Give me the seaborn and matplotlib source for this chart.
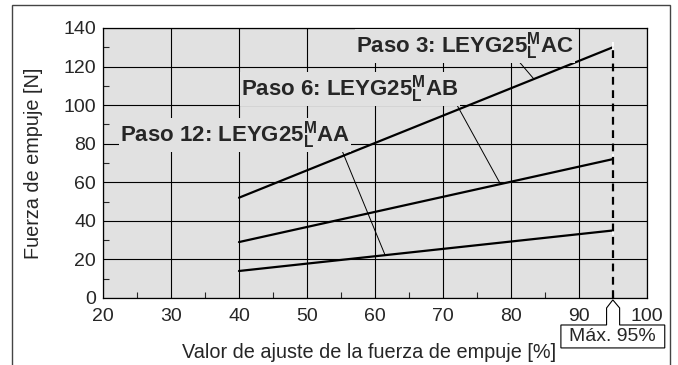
import numpy as np
import pandas as pd
import matplotlib
matplotlib.use("Agg")
import matplotlib.pyplot as plt
from matplotlib.patches import Polygon, Rectangle
import seaborn as sns

# values
ajuste = [40, 95]
paso3 = [52, 130]
paso6 = [29, 72]
paso12 = [14, 35]
max_ajuste = 95

series = {"Paso 3": paso3, "Paso 6": paso6, "Paso 12": paso12}
df = pd.DataFrame([
    {"ajuste": x, "fuerza": y, "serie": name}
    for name, ys in series.items() for x, y in zip(ajuste, ys)
])

sns.set_style("ticks")
plt.rcParams["font.family"] = ["Liberation Sans", "DejaVu Sans"]
plt.rcParams["mathtext.fontset"] = "custom"
plt.rcParams["mathtext.rm"] = "Liberation Sans"
plt.rcParams["mathtext.bf"] = "Liberation Sans:bold"

fig = plt.figure(figsize=(6.78, 3.65), dpi=100)
ax = fig.add_axes([0.152, 0.1836, 0.802, 0.7397])
ax.set_facecolor("#e1e1e1")

sns.lineplot(data=df, x="ajuste", y="fuerza", hue="serie",
             palette=["black"] * 3, linewidth=1.6, legend=False, ax=ax,
             marker="|", markersize=7, markeredgewidth=1.3, markevery=[-1])
ax.plot([max_ajuste, max_ajuste], [0, max(paso3)], color="black",
        lw=1.6, ls=(0, (3.5, 2.5)))

ax.set_xlim(20, 100)
ax.set_ylim(0, 140)
ax.set_xticks(np.arange(20, 101, 10))
ax.set_yticks(np.arange(0, 141, 20))
ax.set_xticks(np.arange(25, 100, 10), minor=True)
ax.set_yticks(np.arange(10, 140, 20), minor=True)
ax.grid(True, which="major", color="black", lw=0.8)
ax.set_axisbelow(True)
ax.tick_params(which="major", length=0, labelsize=14)
ax.tick_params(axis="y", which="major", pad=5)
ax.tick_params(axis="x", which="major", pad=7)
ax.tick_params(which="minor", direction="in", length=4, width=0.8)
for s in ax.spines.values():
    s.set_linewidth(0.9)
    s.set_color("black")

ax.set_xlabel("Valor de ajuste de la fuerza de empuje [%]", fontsize=14.3)
ax.set_ylabel("Fuerza de empuje [N]", fontsize=14.3)
ax.xaxis.set_label_coords(0.49, -0.165)
ax.yaxis.set_label_coords(-0.11, 0.5)

# curve labels and their leader lines
box = dict(boxstyle="square,pad=0.05", fc="#e1e1e1", ec="none")
lab = dict(fontsize=16, fontweight="bold", ha="center", va="center", bbox=box, zorder=4)
arrow = dict(arrowstyle="-", color="black", lw=0.7, shrinkA=0, shrinkB=0)
sub = r"$^{\mathbf{M}}_{\mathbf{L}}$"
labels = [
    ("Paso 3: LEYG25" + sub + "AC", (73.2, 130.5), (81.0, 123.4), (83.4, 113.5)),
    ("Paso 6: LEYG25" + sub + "AB", (56.3, 108.5), (71.5, 103.7), (78.4, 59.5)),
    ("Paso 12: LEYG25" + sub + "AA", (39.4, 84.5), (55.0, 77.8), (61.5, 22.2)),
]
for txt, pos, start, end in labels:
    ax.text(*pos, txt, **lab)
    ax.annotate("", xy=end, xytext=start, arrowprops=arrow, zorder=3)

# "Máx. 95%" callout below the axis
xa = (max_ajuste - 20) / 80
pts = [(0.842, -0.1), (xa - 0.0115, -0.1), (xa - 0.0115, -0.037), (xa, -0.007),
       (xa + 0.0125, -0.037), (xa + 0.0125, -0.1), (1.033, -0.1),
       (1.033, -0.185), (0.842, -0.185)]
ax.add_patch(Polygon(pts, closed=True, transform=ax.transAxes, fc="white",
                     ec="black", lw=0.8, clip_on=False, zorder=5))
ax.text(0.9375, -0.143, "Máx. 95%", transform=ax.transAxes, fontsize=14,
        ha="center", va="center", zorder=6)

fig.patches.append(Rectangle((12 / 678, -0.05), 658 / 678, 1 - 5 / 365 + 0.05,
                             transform=fig.transFigure, fill=False,
                             ec="#444444", lw=1.0))

fig.savefig("out.png", dpi=100)
